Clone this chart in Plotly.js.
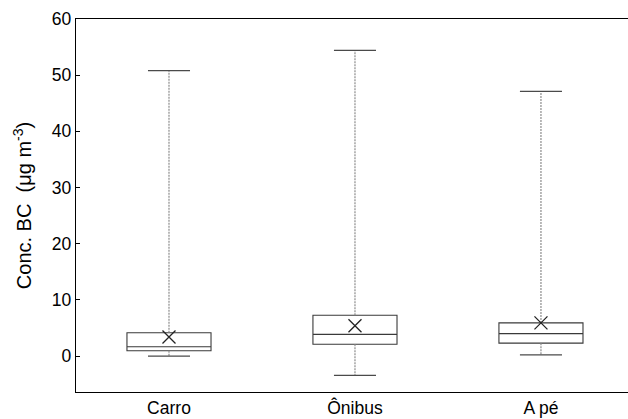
<!DOCTYPE html>
<html>
<head>
<meta charset="utf-8">
<script src="https://cdn.plot.ly/plotly-3.0.1.min.js"></script>
<style>html,body{margin:0;padding:0;background:#fff;}#chart{width:628px;height:419px;}</style>
</head>
<body>
<div id="chart"></div>
<script>
const categories = ["Carro", "Ônibus", "A pé"];
const lowValues = [0.0, -3.45, 0.2];
const q1Values = [0.95, 2.1, 2.3];
const medianValues = [1.65, 3.85, 4.0];
const q3Values = [4.15, 7.25, 5.9];
const highValues = [50.8, 54.4, 47.1];
const meanValues = [3.4, 5.4, 5.9];
const yTickValues = [0, 10, 20, 30, 40, 50, 60];

const pos = categories.map((c, i) => i);
const capHalf = 0.113;

const wx = [], wy = [], cx = [], cy = [];
pos.forEach((p, i) => {
  wx.push(p, p, null, p, p, null);
  wy.push(q1Values[i], lowValues[i], null, q3Values[i], highValues[i], null);
  cx.push(p - capHalf, p + capHalf, null, p - capHalf, p + capHalf, null);
  cy.push(lowValues[i], lowValues[i], null, highValues[i], highValues[i], null);
});

const traces = [
  {type: 'scatter', mode: 'lines', x: wx, y: wy, hoverinfo: 'skip',
   line: {color: '#8c8c8c', width: 1.2, dash: '2px,1px'}, showlegend: false},
  {type: 'scatter', mode: 'lines', x: cx, y: cy, hoverinfo: 'skip',
   line: {color: '#4a4a4a', width: 1.3}, showlegend: false},
  {type: 'box', x: pos, q1: q1Values, median: medianValues, q3: q3Values,
   lowerfence: q1Values, upperfence: q3Values, width: 0.452,
   fillcolor: 'rgba(255,255,255,0)', line: {color: '#3a3a3a', width: 1.1},
   whiskerwidth: 0, boxpoints: false, showlegend: false},
  {type: 'scatter', mode: 'markers', x: pos, y: meanValues,
   marker: {symbol: 'x-thin-open', size: 13, color: '#222', line: {color: '#222', width: 1.3}},
   showlegend: false}
];

const layout = {
  width: 628, height: 419,
  margin: {l: 76, r: 0, t: 19, b: 27},
  paper_bgcolor: '#fff', plot_bgcolor: '#fff',
  font: {family: 'Liberation Sans, Arial, sans-serif', color: '#000'},
  xaxis: {
    range: [-0.5, 2.468], tickmode: 'array', tickvals: pos, ticktext: categories,
    showgrid: false, zeroline: false, showline: true, linecolor: '#000', linewidth: 1.3,
    mirror: true, ticks: '', tickfont: {size: 17.5}, fixedrange: true
  },
  yaxis: {
    range: [-6.4, 60], tickmode: 'array', tickvals: yTickValues,
    showgrid: false, zeroline: false, showline: true, linecolor: '#000', linewidth: 1.3,
    ticks: 'inside', ticklen: 4, tickcolor: '#000', tickwidth: 1,
    tickfont: {size: 17.5},
    title: {text: 'Conc. BC  (μg m<sup>-3</sup>)', font: {size: 20}, standoff: 14},
    fixedrange: true
  }
};

Plotly.newPlot('chart', traces, layout, {displayModeBar: false, staticPlot: true});
</script>
</body>
</html>
